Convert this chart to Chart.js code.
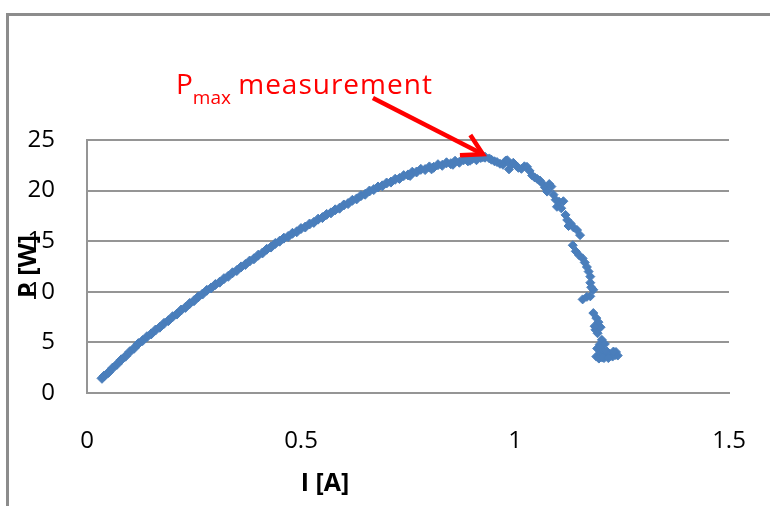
<!DOCTYPE html>
<html>
<head>
<meta charset="utf-8">
<title>P-I curve</title>
<script src="https://cdn.jsdelivr.net/npm/chart.js@4.4.1/dist/chart.umd.min.js"></script>
<style>
  html, body { margin: 0; padding: 0; background: #fff; overflow: hidden; }
  #wrap { position: relative; width: 770px; height: 506px; }
  #frame {
    position: absolute; left: 6px; top: 13px; width: 800px; height: 520px;
    border-top: 3px solid #8c8c8c; border-left: 3px solid #8c8c8c;
    pointer-events: none;
  }
</style>
</head>
<body>
<div id="wrap">
  <canvas id="pChart" width="770" height="506"></canvas>
  <div id="frame"></div>
</div>
<script>
/******************** DATA ******************/
// rising branch of the P-I curve
const riseCurrent = [
  0.035, 0.04, 0.05, 0.06, 0.07, 0.08, 0.09, 0.10, 0.11, 0.12,
  0.13, 0.14, 0.15, 0.16, 0.17, 0.18, 0.19, 0.20, 0.21, 0.22,
  0.23, 0.24, 0.25, 0.26, 0.27, 0.28, 0.29, 0.30, 0.31, 0.32,
  0.33, 0.34, 0.35, 0.36, 0.37, 0.38, 0.39, 0.40, 0.41, 0.42,
  0.43, 0.44, 0.45, 0.46, 0.47, 0.48, 0.49, 0.50, 0.51, 0.52,
  0.53, 0.54, 0.55, 0.56, 0.57, 0.58, 0.59, 0.60, 0.61, 0.62,
  0.63, 0.64, 0.65, 0.66, 0.67, 0.68, 0.69, 0.70, 0.71, 0.72,
  0.73, 0.74, 0.75, 0.76, 0.77, 0.78, 0.79, 0.80, 0.81, 0.82,
  0.83, 0.84, 0.85, 0.86, 0.87, 0.88, 0.89, 0.90, 0.91, 0.92,
  0.93, 0.755, 0.805, 0.855, 0.895, 0.925
];
const risePower = [
  1.45, 1.68, 2.02, 2.47, 2.83, 3.28, 3.63, 4.08, 4.42, 4.88,
  5.18, 5.56, 5.84, 6.22, 6.50, 6.88, 7.15, 7.54, 7.80, 8.20,
  8.46, 8.85, 9.12, 9.50, 9.78, 10.15, 10.38, 10.72, 10.95, 11.30,
  11.53, 11.88, 12.10, 12.46, 12.70, 13.04, 13.26, 13.62, 13.84, 14.20,
  14.42, 14.78, 15.00, 15.30, 15.47, 15.78, 15.93, 16.25, 16.40, 16.70,
  16.86, 17.18, 17.33, 17.65, 17.80, 18.10, 18.26, 18.58, 18.72, 19.04,
  19.18, 19.50, 19.64, 19.96, 20.10, 20.36, 20.47, 20.75, 20.84, 21.12,
  21.20, 21.48, 21.55, 21.82, 21.84, 22.10, 22.08, 22.34, 22.30, 22.56,
  22.50, 22.75, 22.66, 22.90, 22.80, 23.05, 22.94, 23.17, 23.05, 23.27,
  23.30, 21.50, 22.15, 22.60, 23.00, 23.35
];

// knee and falling branch (scattered readings)
const kneeCurrent = [
  0.94, 0.945, 0.952, 0.958, 0.965, 0.972, 0.978, 0.982, 0.986, 0.99,
  0.996, 1.003, 1.008, 1.015, 1.022, 1.028, 1.034, 1.04, 1.046, 1.052,
  1.058, 1.064, 1.07, 1.075, 1.08, 1.085, 1.09, 1.095, 1.098, 1.103,
  1.108, 1.113, 1.118, 1.122, 1.125, 1.13, 1.137, 1.145, 1.152, 1.135,
  1.142, 1.15, 1.158, 1.163, 1.168, 1.172, 1.176, 1.176, 1.183, 1.178,
  1.158, 1.168, 1.176, 1.183, 1.19, 1.195, 1.188, 1.2, 1.203, 1.198,
  1.192, 1.19, 1.198, 1.2, 1.206, 1.212, 1.215, 1.222, 1.228, 1.234,
  1.208, 1.24, 1.236, 1.196, 1.204, 1.218, 1.23, 1.2, 1.21, 1.186,
  1.193
];
const kneePower = [
  23.18, 23.05, 22.90, 22.82, 22.65, 22.55, 22.95, 23.00, 22.10, 22.55,
  22.75, 22.45, 22.25, 22.15, 22.40, 22.35, 21.95, 21.50, 21.30, 21.15,
  21.00, 20.70, 20.30, 19.90, 20.65, 20.40, 19.60, 19.10, 18.40, 18.90,
  18.25, 18.95, 17.60, 17.10, 16.50, 16.75, 16.35, 16.10, 15.60, 14.60,
  14.00, 13.60, 13.30, 12.90, 12.45, 12.00, 11.50, 10.90, 10.20, 10.45,
  9.25, 9.50, 9.55, 7.90, 7.40, 7.00, 6.25, 6.50, 5.25, 4.80,
  4.40, 3.60, 3.55, 3.90, 4.20, 3.70, 4.10, 3.85, 3.60, 3.75,
  3.45, 3.70, 4.05, 3.40, 3.50, 3.45, 4.10, 4.60, 4.85, 6.60,
  5.90
];

const xTickLabels = ['0', '0.5', '1', '1.5'];
const yTickLabels = ['0', '5', '10', '15', '20', '25'];
const xTitle = 'I [A]';
const yTitle = 'P [W]';

// arrow pointing at the measured maximum, in data units [I, P]
const arrowFrom = [0.668, 29.15];
const arrowTo = [0.925, 23.6];

/******************** STYLE ******************/
const BLUE = '#4a7ebb';
const GRID = '#959595';
const FONT = '"Open Sans", "Noto Sans", sans-serif';

/******************** HELPERS ******************/
function zipPoints(xs, ys) {
  return xs.map((x, i) => ({ x, y: ys[i] }));
}

// axis titles + "Pmax measurement" note with arrow
const notePlugin = {
  id: 'pmaxNote',
  afterDraw(chart) {
    const { ctx, chartArea, scales } = chart;
    const area = chartArea;
    ctx.save();

    // axis titles
    ctx.fillStyle = '#000';
    ctx.font = 'bold 25px ' + FONT;
    ctx.textAlign = 'center';
    ctx.textBaseline = 'middle';
    ctx.fillText(xTitle, area.left + 238, area.bottom + 91);

    ctx.save();
    ctx.translate(area.left - 58, (area.top + area.bottom) / 2);
    ctx.rotate(-Math.PI / 2);
    ctx.fillText(yTitle, 0, 0);
    ctx.restore();

    // note text
    ctx.fillStyle = '#ff0000';
    ctx.textAlign = 'left';
    ctx.textBaseline = 'alphabetic';
    let tx = area.left + 89;
    const base = area.top - 46;
    ctx.font = '28px ' + FONT;
    ctx.fillText('P', tx, base);
    tx += ctx.measureText('P').width;
    ctx.font = '19px ' + FONT;
    ctx.fillText('max', tx, base + 10);
    tx += ctx.measureText('max').width;
    ctx.font = '28px ' + FONT;
    tx += ctx.measureText(' ').width;
    if ('letterSpacing' in ctx) ctx.letterSpacing = '1px';
    ctx.fillText('measurement', tx, base);
    if ('letterSpacing' in ctx) ctx.letterSpacing = '0px';

    // arrow
    const x0 = scales.x.getPixelForValue(arrowFrom[0]);
    const y0 = scales.y.getPixelForValue(arrowFrom[1]);
    const x1 = scales.x.getPixelForValue(arrowTo[0]);
    const y1 = scales.y.getPixelForValue(arrowTo[1]);
    const ang = Math.atan2(y0 - y1, x0 - x1);
    const head = 23;
    ctx.strokeStyle = '#ff0000';
    ctx.lineWidth = 4.5;
    ctx.lineCap = 'butt';
    ctx.beginPath();
    ctx.moveTo(x0, y0);
    ctx.lineTo(x1, y1);
    ctx.stroke();
    ctx.beginPath();
    ctx.moveTo(x1 + head * Math.cos(ang - 0.52), y1 + head * Math.sin(ang - 0.52));
    ctx.lineTo(x1, y1);
    ctx.lineTo(x1 + head * Math.cos(ang + 0.52), y1 + head * Math.sin(ang + 0.52));
    ctx.stroke();

    ctx.restore();
  }
};

/******************** CHART ******************/
const markerStyle = {
  pointStyle: 'rectRot',
  pointBackgroundColor: BLUE,
  pointBorderColor: BLUE,
  pointBorderWidth: 1,
  showLine: false
};

new Chart(document.getElementById('pChart'), {
  type: 'scatter',
  data: {
    datasets: [
      Object.assign({ label: 'rise', data: zipPoints(riseCurrent, risePower), pointRadius: 5 }, markerStyle),
      Object.assign({ label: 'knee', data: zipPoints(kneeCurrent, kneePower), pointRadius: 4.5 }, markerStyle)
    ]
  },
  options: {
    responsive: false,
    animation: false,
    devicePixelRatio: 1,
    layout: { padding: { left: 0, top: 140, right: 41, bottom: 0 } },
    plugins: {
      legend: { display: false },
      tooltip: { enabled: false }
    },
    scales: {
      x: {
        type: 'linear',
        min: 0,
        max: 1.5,
        afterFit(scale) {
          scale.height = 113;
          scale.paddingLeft = 0;
          scale.paddingRight = 0;
        },
        ticks: {
          stepSize: 0.5,
          padding: 34,
          color: '#000',
          font: { family: FONT, size: 24 },
          callback: (v, i) => xTickLabels[i]
        },
        grid: { display: false, drawTicks: false },
        border: { display: true, color: GRID, width: 2 }
      },
      y: {
        type: 'linear',
        min: 0,
        max: 25,
        afterFit(scale) {
          scale.width = 87;
          scale.paddingTop = 0;
          scale.paddingBottom = 0;
        },
        ticks: {
          stepSize: 5,
          padding: 32,
          color: '#000',
          font: { family: FONT, size: 24 },
          callback: (v, i) => yTickLabels[i]
        },
        grid: { color: GRID, lineWidth: 2, drawTicks: false },
        border: { display: true, color: GRID, width: 2 }
      }
    }
  },
  plugins: [notePlugin]
});
</script>
</body>
</html>
